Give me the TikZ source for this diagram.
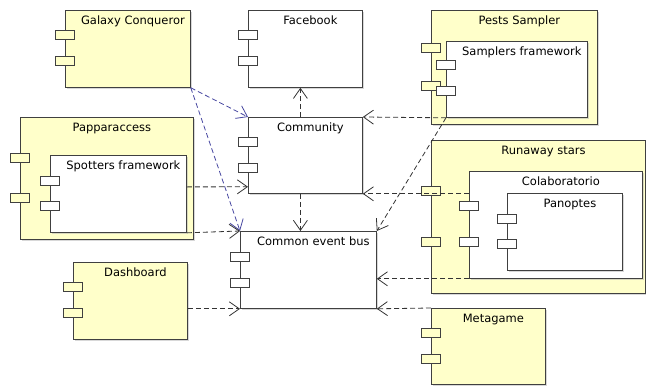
\documentclass[tikz,border=0pt]{standalone}
\usepackage{fontspec}
\setmainfont{DejaVu Sans}
\usetikzlibrary{arrows.meta,positioning,shadows}

\definecolor{compyellow}{RGB}{255,255,202}
\definecolor{depblue}{RGB}{70,70,160}

\tikzset{
  comp/.style={draw=black!75, line width=0.8pt, fill=#1, anchor=north west, inner sep=0pt,
    drop shadow={shadow xshift=1.5pt, shadow yshift=-1.5pt, fill=black!30, opacity=0.5}},
  comp/.default=compyellow,
  title/.style={label={[anchor=north, xshift=5pt, yshift=-5pt, inner sep=1pt]north:#1}},
  port/.style={draw=black!75, line width=0.8pt, minimum width=19pt, minimum height=9pt, inner sep=0pt},
  dep/.style={draw=black!80, line width=0.8pt, dash pattern=on 5pt off 3pt,
    -{Straight Barb[length=10pt, width=14pt]}},
  bluedep/.style={dep, draw=depblue}
}

% two ports on the left edge of a component
\newcommand{\twoports}[4]{%
  \node[port, fill=#4] at ([yshift=-#2pt]#1.north west) {};
  \node[port, fill=#4] at ([yshift=-#3pt]#1.north west) {};}

\begin{document}
\begin{tikzpicture}[x=1pt, y=-1pt, font=\fontsize{11.5pt}{13pt}\selectfont]
    \useasboundingbox (0,0) rectangle (646,388);

    % left column
    \node[comp, title=Galaxy Conqueror, minimum width=125pt, minimum height=77pt] (galaxy) at (65,10) {};
    \twoports{galaxy}{24.5}{50.5}{compyellow}
    \node[comp, title=Papparaccess, minimum width=173pt, minimum height=122pt] (papparaccess) at (20,117) {};
    \twoports{papparaccess}{40.5}{81}{compyellow}
    \node[comp=white, title=Spotters framework, minimum width=136pt, minimum height=77pt] (spotters) at (50,155) {};
    \twoports{spotters}{25.5}{51}{white}
    \node[comp, title=Dashboard, minimum width=114pt, minimum height=77pt] (dashboard) at (73,262) {};
    \twoports{dashboard}{25}{51}{compyellow}

    % middle column
    \node[comp=white, title=Facebook, minimum width=114pt, minimum height=77pt] (facebook) at (248,10) {};
    \twoports{facebook}{24.5}{50.5}{white}
    \node[comp=white, title=Community, minimum width=114pt, minimum height=76pt] (community) at (248,117) {};
    \twoports{community}{24.5}{50.5}{white}
    \node[comp=white, title=Common event bus, minimum width=136pt, minimum height=77pt] (bus) at (240,231) {};
    \twoports{bus}{25.5}{51.5}{white}

    % right column
    \node[comp, title=Pests Sampler, minimum width=166pt, minimum height=114pt] (pests) at (431,10) {};
    \twoports{pests}{38}{76}{compyellow}
    \node[comp=white, title=Samplers framework, minimum width=141pt, minimum height=76pt] (samplers) at (446,41) {};
    \twoports{samplers}{24}{50}{white}
    \node[comp, title=Runaway stars, minimum width=214pt, minimum height=153pt] (runaway) at (431,140) {};
    \twoports{runaway}{50.5}{101.5}{compyellow}
    \node[comp=white, title=Colaboratorio, minimum width=173pt, minimum height=107pt] (colab) at (469,171) {};
    \twoports{colab}{35}{70.5}{white}
    \node[comp=white, title=Panoptes, minimum width=115pt, minimum height=77pt] (panoptes) at (507,193) {};
    \twoports{panoptes}{25.5}{51}{white}
    \node[comp, title=Metagame, minimum width=114pt, minimum height=76pt] (metagame) at (431,308) {};
    \twoports{metagame}{25}{50.5}{compyellow}

    % dependencies
    \draw[bluedep] (galaxy.south east) -- (community.north west);
    \draw[bluedep] (galaxy.south east) -- (bus.north west);
    \draw[dep] ([xshift=-5pt]community.north) -- ([xshift=-5pt]facebook.south);
    \draw[dep] ([xshift=-5pt]community.south) -- ([xshift=-5pt]community.south |- bus.north);
    \draw[dep] ([yshift=7pt]spotters.east) -- ([yshift=7pt]community.south west);
    \draw[dep] (spotters.south east) -- (bus.north west);
    \draw[dep] (dashboard.east |- bus.south west) -- (bus.south west);
    \draw[dep] (samplers.south west) -- (community.north east);
    \draw[dep] (samplers.south west) -- (bus.north east);
    \draw[dep] (colab.west |- community.south east) -- (community.south east);
    \draw[dep] (colab.south west) -- (bus.east |- colab.south west);
    \draw[dep] (metagame.north west) -- (bus.south east);
\end{tikzpicture}
\end{document}
